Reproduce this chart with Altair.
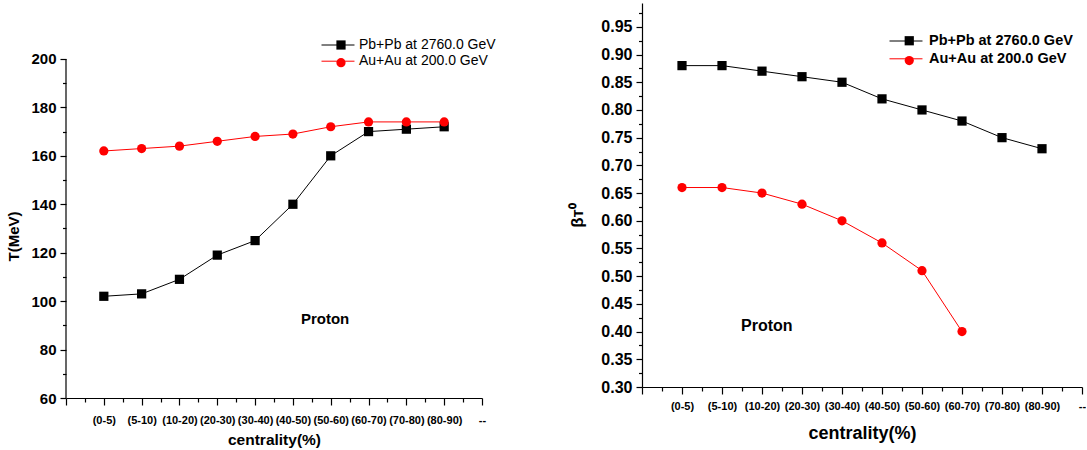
import json
import altair as alt
import pandas as pd

# ---------------- data ----------------
categories = ["(0-5)", "(5-10)", "(10-20)", "(20-30)", "(30-40)",
              "(40-50)", "(50-60)", "(60-70)", "(70-80)", "(80-90)"]
end_label = "--"
series_pb = "Pb+Pb at 2760.0 GeV"
series_au = "Au+Au at 200.0 GeV"

T_pb = [102, 103, 109, 119, 125, 140, 160, 170, 171, 172]
T_au = [162, 163, 164, 166, 168, 169, 172, 174, 174, 174]
beta_pb = [0.88, 0.88, 0.87, 0.86, 0.85, 0.82, 0.80, 0.78, 0.75, 0.73]
beta_au = [0.66, 0.66, 0.65, 0.63, 0.60, 0.56, 0.51, 0.40]

T_ticks = [60, 70, 80, 90, 100, 110, 120, 130, 140, 150, 160, 170, 180, 190, 200]
beta_ticks = [0.30, 0.325, 0.35, 0.375, 0.40, 0.425, 0.45, 0.475, 0.50, 0.525,
              0.55, 0.575, 0.60, 0.625, 0.65, 0.675, 0.70, 0.725, 0.75, 0.775,
              0.80, 0.825, 0.85, 0.875, 0.90, 0.925, 0.95, 0.975]
x_ticks = [i / 2 for i in range(23)]  # 0 .. 11 in halves

annot_T = {"idx": 6.85, "value": 92.6, "text": "Proton"}
annot_beta = {"idx": 3.12, "value": 0.41, "text": "Proton"}

FONT = "Liberation Sans"
short = {series_pb: "Pb", series_au: "Au"}


def long_df(pb, au):
    rows = []
    for name, vals in [(series_pb, pb), (series_au, au)]:
        for i, v in enumerate(vals):
            rows.append({"idx": i + 1, "cat": categories[i], "value": v,
                         "series": name, "marker": short[name]})
    return pd.DataFrame(rows)


df_T = long_df(T_pb, T_au)
df_beta = long_df(beta_pb, beta_au)

x_labels = [""] + categories + [end_label]
x_label_expr = "datum.value % 1 === 0 ? " + json.dumps(x_labels) + "[datum.value] : ''"


def x_enc(label_size, title_size, title_y, label_pad):
    return alt.X(
        "idx:Q",
        scale=alt.Scale(domain=[0, 11], nice=False, zero=False),
        axis=alt.Axis(
            values=x_ticks, labelExpr=x_label_expr, grid=False,
            tickSize={"condition": {"test": "datum.value % 1 === 0", "value": 7}, "value": 4},
            tickColor="black", tickWidth=1.2, domainColor="black", domainWidth=1.2,
            labelFont=FONT, labelFontSize=label_size, labelFontWeight="bold",
            labelColor="black", labelPadding=label_pad, labelOverlap=False, labelFlush=False,
            title="centrality(%)", titleFont=FONT, titleFontSize=title_size,
            titleFontWeight="bold", titleColor="black", titleY=title_y,
            titleBaseline="middle",
        ),
    )


stroke_scale = alt.Scale(domain=[series_pb, series_au], range=["black", "red"])
fill_scale = alt.Scale(domain=["Pb", "Au"], range=["black", "red"])
shape_scale = alt.Scale(domain=["Pb", "Au"], range=["square", "circle"])


def panel(df, x, y, lg, label_weight, label_size, annot, annot_size,
          width, height, extra_layers=()):
    base = alt.Chart(df)
    line = base.mark_line(strokeWidth=1).encode(
        x=x, y=y, detail="series:N",
        stroke=alt.Stroke("series:N", scale=stroke_scale, legend=alt.Legend(
            orient="none", legendX=lg["sx"], legendY=lg["sy"], title=None,
            symbolType="M-2,0H2", symbolSize=272, symbolStrokeWidth=1,
            labelFont=FONT, labelFontSize=label_size, labelFontWeight=label_weight,
            labelColor="black", padding=0, rowPadding=lg["srow"],
            labelOffset=lg["loff"])),
    )
    # marker-only legend drawn on top of the line legend (no text of its own)
    pleg = alt.Legend(
        orient="none", legendX=lg["px"], legendY=lg["py"], title=None,
        symbolSize=85, symbolStrokeWidth=0, symbolOpacity=1,
        labelExpr="''", labelFontSize=label_size, labelOpacity=0,
        padding=0, rowPadding=lg["prow"])
    pts = base.mark_point(filled=True, size=85, opacity=1).encode(
        x=x, y=y,
        fill=alt.Fill("marker:N", scale=fill_scale, legend=pleg),
        shape=alt.Shape("marker:N", scale=shape_scale, legend=pleg),
    )
    txt = alt.Chart(pd.DataFrame([annot])).mark_text(
        font=FONT, fontSize=annot_size, fontWeight="bold", color="black"
    ).encode(x=x, y=y, text="text:N")
    return alt.layer(*extra_layers, line, pts, txt).properties(width=width, height=height)


# ---------------- left panel ----------------
x_left = x_enc(11, 15.5, 41, 9)
y_left = alt.Y(
    "value:Q",
    scale=alt.Scale(domain=[60, 223.1], nice=False, zero=False),
    axis=alt.Axis(
        values=T_ticks, grid=False, domain=False,
        labelExpr="datum.value % 20 === 0 ? datum.label : ''",
        tickSize={"condition": {"test": "datum.value % 20 === 0", "value": 6}, "value": 3.5},
        tickColor="black", tickWidth=1.2,
        labelFont=FONT, labelFontSize=15, labelFontWeight="bold", labelColor="black",
        labelPadding=4, labelOverlap=False,
        title="T(MeV)", titleFont=FONT, titleFontSize=15, titleFontWeight="bold",
        titleColor="black", titleX=-53, titleY=233, titleBaseline="middle",
    ),
)
axis_line = alt.Chart(pd.DataFrame([{"idx": 0, "value": 60, "value2": 200}])).mark_rule(
    color="black", strokeWidth=1.2
).encode(x=x_left, y=y_left, y2="value2:Q")

left_legend = {"sx": 263, "sy": 33, "srow": 0.2, "loff": 12,
               "px": 268, "py": 35, "prow": 3.7}
left = panel(df_T, x_left, y_left, left_legend, "normal", 14, annot_T, 15,
             416, 395, extra_layers=(axis_line,))

# ---------------- right panel ----------------
x_right = x_enc(11, 18, 46, 6)
y_right = alt.Y(
    "value:Q",
    scale=alt.Scale(domain=[0.30, 0.993], nice=False, zero=False),
    axis=alt.Axis(
        values=beta_ticks, grid=False,
        labelExpr="round(datum.value * 1000) % 50 === 0 ? format(datum.value, '.2f') : ''",
        tickSize={"condition": {"test": "round(datum.value * 1000) % 50 === 0", "value": 6},
                  "value": 3.5},
        tickColor="black", tickWidth=1.2, domainColor="black", domainWidth=1.2,
        labelFont=FONT, labelFontSize=16, labelFontWeight="bold", labelColor="black",
        labelPadding=4, labelOverlap=False,
        title="βᴛ⁰", titleFont=FONT, titleFontSize=17, titleFontWeight="bold",
        titleColor="black", titleX=-65, titleY=212, titleBaseline="middle",
    ),
)
right_legend = {"sx": 255, "sy": 29, "srow": 1.8, "loff": 14,
                "px": 260, "py": 30.5, "prow": 4.8}
right = panel(df_beta, x_right, y_right, right_legend, "bold", 14.5, annot_beta, 16,
              440, 384)

chart = alt.hconcat(left, right, spacing=160, bounds="flush").resolve_scale(
    x="independent", y="independent", stroke="independent", fill="independent",
    shape="independent"
).properties(
    padding={"left": 6, "top": 3, "right": 0, "bottom": 0},
    background="white",
).configure_view(stroke=None)

chart.save("out.html", embed_options={"renderer": "svg", "actions": False})
